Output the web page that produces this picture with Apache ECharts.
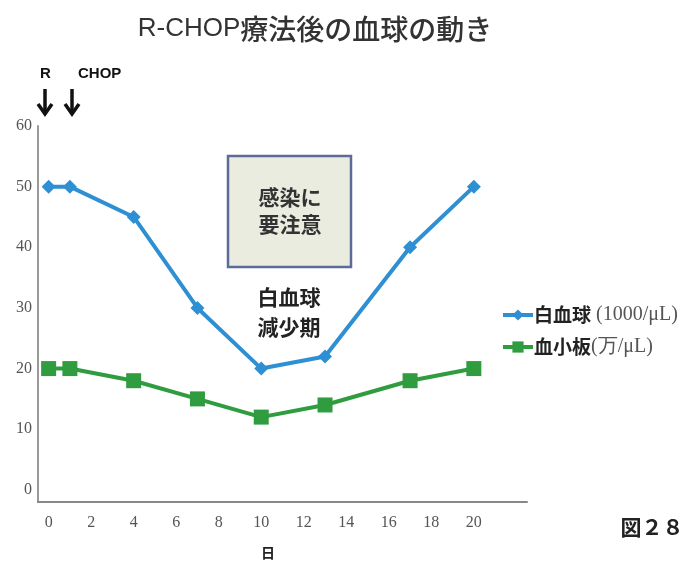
<!DOCTYPE html>
<html>
<head>
<meta charset="utf-8">
<script src="https://cdn.jsdelivr.net/npm/echarts@6/dist/echarts.min.js"></script>
<style>
  body { margin: 0; background: #fff; }
  #chart { width: 689px; height: 561px; }
</style>
</head>
<body>
<div id="chart"></div>
<script>
// 日数
var days = [0, 1, 4, 7, 10, 13, 17, 20];
// 白血球 (1000/μL)
var wbc = [50, 50, 45, 30, 20, 22, 40, 50];
// 血小板 (万/μL)
var plt = [20, 20, 18, 15, 12, 14, 18, 20];
var xTicks = [0, 2, 4, 6, 8, 10, 12, 14, 16, 18, 20];
var yTicks = [0, 10, 20, 30, 40, 50, 60];

var serif = "'Liberation Serif', 'DejaVu Serif', serif";
var cjk = "'Noto Sans CJK JP', sans-serif";

function pairs(xs, ys) {
  return xs.map(function (x, i) { return [x, ys[i]]; });
}

// 下向き矢印
function arrow(cx) {
  return {
    type: "polyline",
    shape: { points: [[cx - 7, 104], [cx, 114], [cx + 7, 104]] },
    style: { stroke: "#111", lineWidth: 3.5, fill: null, lineJoin: "miter" }
  };
}
function stem(cx) {
  return {
    type: "line",
    shape: { x1: cx, y1: 89, x2: cx, y2: 113 },
    style: { stroke: "#111", lineWidth: 3.5 }
  };
}

var myChart = echarts.init(document.getElementById("chart"));
myChart.setOption({
  animation: false,
  title: {
    text: "{l|R-CHOP}{c|療法後の血球の動き}",
    left: 310,
    textAlign: "center",
    top: 10,
    textStyle: {
      rich: {
        l: { fontFamily: "'Liberation Sans', sans-serif", fontSize: 26, fontWeight: "normal", color: "#333" },
        c: { fontFamily: cjk, fontSize: 28, fontWeight: 500, color: "#333" }
      }
    }
  },
  grid: { left: 38, top: 126, width: 489, height: 376 },
  legend: {
    orient: "vertical",
    left: 496,
    top: 300,
    itemGap: 12,
    itemWidth: 30,
    itemHeight: 14,
    lineStyle: { width: 4 },
    data: ["白血球", "血小板"],
    formatter: function (name) {
      if (name === "白血球") return "{a|白血球}{b| (1000/μL)}";
      return "{a|血小板}{b|(万/μL)}";
    },
    textStyle: {
      padding: [0, 0, 0, -4],
      rich: {
        a: { fontFamily: cjk, fontSize: 19, fontWeight: "bold", color: "#222" },
        b: { fontFamily: serif, fontSize: 20, color: "#555" }
      }
    }
  },
  xAxis: {
    type: "value",
    min: -0.5,
    max: 22.5,
    interval: 0.5,
    axisLine: { onZero: false, lineStyle: { color: "#888", width: 2 } },
    axisTick: { show: false },
    splitLine: { show: false },
    axisLabel: {
      margin: 13,
      fontFamily: serif,
      fontSize: 16,
      color: "#555",
      showMinLabel: false,
      showMaxLabel: false,
      formatter: function (v) {
        return xTicks.indexOf(v) >= 0 ? String(v) : "";
      }
    }
  },
  yAxis: {
    type: "value",
    min: -2,
    max: 60,
    interval: 1,
    axisLine: { show: true, onZero: false, lineStyle: { color: "#999", width: 2 } },
    axisTick: { show: false },
    splitLine: { show: false },
    axisLabel: {
      margin: 6,
      fontFamily: serif,
      fontSize: 16,
      color: "#555",
      formatter: function (v) {
        return yTicks.indexOf(v) >= 0 ? String(v) : "";
      }
    }
  },
  series: [
    {
      name: "白血球",
      type: "line",
      data: pairs(days, wbc),
      symbol: "diamond",
      symbolSize: 14,
      lineStyle: { color: "#2f8fd3", width: 4 },
      itemStyle: { color: "#2f8fd3" }
    },
    {
      name: "血小板",
      type: "line",
      data: pairs(days, plt),
      symbol: "rect",
      symbolSize: 15,
      lineStyle: { color: "#2f9c3f", width: 4 },
      itemStyle: { color: "#2f9c3f" }
    }
  ],
  graphic: [
    // 投与タイミング
    { type: "text", left: 40, top: 66, style: { text: "R", font: "bold 15px 'Liberation Sans', sans-serif", fill: "#111" } },
    { type: "text", left: 78, top: 66, style: { text: "CHOP", font: "bold 15px 'Liberation Sans', sans-serif", fill: "#111" } },
    stem(45), arrow(45),
    stem(72), arrow(72),
    // 感染に要注意 box
    {
      type: "rect",
      shape: { x: 228, y: 156, width: 123, height: 111 },
      style: { fill: "#eaecdf", stroke: "#5d6b98", lineWidth: 2.5 }
    },
    {
      type: "text",
      x: 290, y: 211,
      style: {
        text: "感染に\n要注意",
        align: "center",
        verticalAlign: "middle",
        font: "bold 21px 'Noto Sans CJK JP', sans-serif",
        lineHeight: 27,
        fill: "#333"
      }
    },
    {
      type: "text",
      x: 289, y: 312,
      style: {
        text: "白血球\n減少期",
        align: "center",
        verticalAlign: "middle",
        font: "bold 21px 'Noto Sans CJK JP', sans-serif",
        lineHeight: 30,
        fill: "#222"
      }
    },
    {
      type: "text",
      x: 268, y: 553,
      style: { text: "日", align: "center", verticalAlign: "middle", font: "bold 14px 'Noto Sans CJK JP', sans-serif", fill: "#222" }
    },
    {
      type: "text",
      x: 652, y: 527,
      style: { text: "図２８", align: "center", verticalAlign: "middle", font: "bold 21px 'Noto Sans CJK JP', sans-serif", fill: "#222" }
    }
  ]
});
</script>
</body>
</html>
